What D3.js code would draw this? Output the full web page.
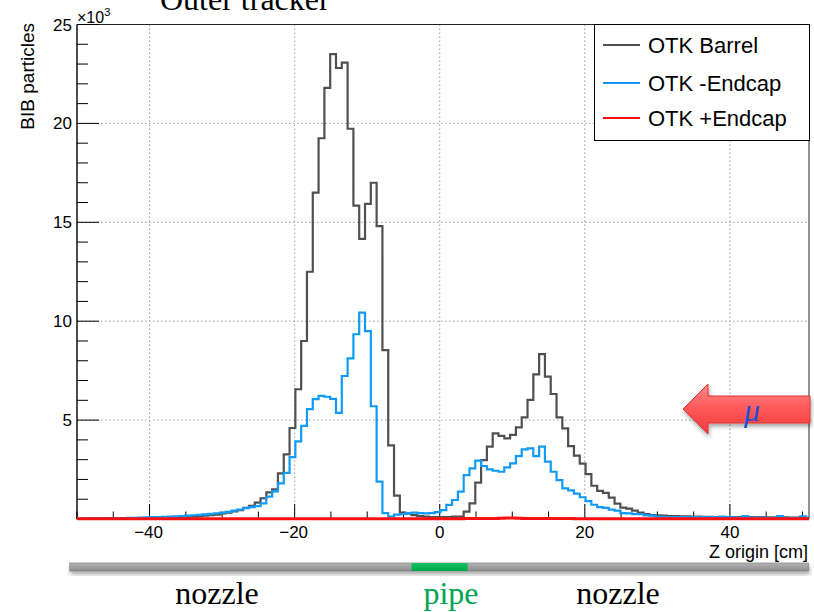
<!DOCTYPE html>
<html><head><meta charset="utf-8">
<script src="https://cdn.jsdelivr.net/npm/d3@7"></script>
<style>body{margin:0;background:#fff}svg{display:block}</style>
</head><body><svg id="c" width="814" height="612"></svg>
<script>
// ---- data (values in units of 10^3 BIB particles per bin) ----
const binLow = -50.3, binWidth = 0.8;          // Z origin [cm] binning
const barrel = [0.01,0.01,0.02,0.01,0.02,0.02,0.02,0.03,0.02,0.03,
0.03,0.04,0.04,0.05,0.05,0.06,0.07,0.08,0.09,0.10,
0.12,0.14,0.17,0.20,0.22,0.28,0.32,0.38,0.45,0.57,
0.67,0.83,1.05,1.35,1.50,2.31,3.27,4.60,6.56,9.00,
12.50,16.50,19.25,21.80,23.50,22.80,23.07,19.73,15.84,14.16,
15.93,17.00,14.81,8.54,3.72,1.18,0.32,0.27,0.20,0.15,
0.12,0.10,0.10,0.10,0.10,0.12,0.12,0.37,0.79,1.84,
2.98,3.66,4.33,4.20,4.08,4.25,4.63,5.14,6.02,7.31,
8.34,7.20,6.32,5.14,4.58,3.68,3.20,2.80,2.27,1.68,
1.42,1.32,1.08,0.78,0.58,0.52,0.42,0.32,0.25,0.20,
0.18,0.17,0.15,0.15,0.14,0.13,0.12,0.12,0.11,0.11,
0.10,0.10,0.10,0.10,0.09,0.10,0.09,0.08,0.09,0.08,
0.08,0.07,0.08,0.07,0.07,0.06,0.06];
const endcapMinus = [0.02,0.02,0.03,0.03,0.03,0.04,0.04,0.05,0.05,0.06,
0.06,0.07,0.08,0.09,0.10,0.11,0.12,0.13,0.15,0.17,
0.19,0.21,0.23,0.26,0.29,0.32,0.36,0.42,0.48,0.55,
0.60,0.65,0.79,1.13,1.40,1.80,2.33,3.13,3.92,4.71,
5.55,6.06,6.22,6.18,6.07,5.37,7.23,8.12,9.34,10.43,
9.50,5.70,1.89,0.30,0.12,0.22,0.25,0.30,0.32,0.30,
0.28,0.30,0.35,0.45,0.71,0.96,1.38,2.22,2.56,2.95,
2.68,2.51,2.44,2.39,2.61,2.81,3.18,3.52,3.57,3.18,
3.66,2.90,2.39,1.97,1.55,1.45,1.28,1.10,0.90,0.72,
0.60,0.56,0.47,0.42,0.30,0.28,0.25,0.24,0.18,0.17,
0.12,0.10,0.10,0.09,0.10,0.09,0.08,0.10,0.08,0.09,
0.08,0.12,0.08,0.08,0.07,0.15,0.07,0.06,0.07,0.06,
0.06,0.15,0.06,0.05,0.06,0.14,0.06];
const endcapPlus = [0.01,0.01,0.01,0.01,0.01,0.01,0.01,0.01,0.01,0.01,
0.01,0.01,0.01,0.01,0.01,0.01,0.01,0.01,0.01,0.01,
0.01,0.01,0.01,0.01,0.01,0.01,0.01,0.01,0.01,0.01,
0.01,0.01,0.01,0.01,0.01,0.01,0.01,0.01,0.01,0.01,
0.01,0.01,0.01,0.01,0.01,0.01,0.01,0.01,0.01,0.01,
0.01,0.01,0.01,0.01,0.01,0.01,0.01,0.01,0.01,0.01,
0.01,0.01,0.01,0.01,0.01,0.01,0.01,0.02,0.02,0.02,
0.03,0.03,0.03,0.04,0.05,0.05,0.04,0.03,0.03,0.03,
0.03,0.02,0.02,0.02,0.02,0.02,0.01,0.01,0.01,0.01,
0.01,0.01,0.01,0.01,0.01,0.01,0.01,0.01,0.01,0.01,
0.01,0.01,0.01,0.01,0.01,0.01,0.01,0.01,0.01,0.01,
0.01,0.01,0.01,0.01,0.01,0.01,0.01,0.01,0.01,0.01,
0.01,0.01,0.01,0.01,0.01,0.01,0.01];
const seriesNames = ["OTK Barrel", "OTK -Endcap", "OTK +Endcap"];
const seriesColors = ["#505050", "#0f9bf5", "#ff1010"];
const xTickLabels = [-40, -20, 0, 20, 40];
const yTickLabels = [5, 10, 15, 20, 25];
const regionNames = ["nozzle", "pipe", "nozzle"];
const regionEdges = [-51.0, -3.9, 3.85, 50.85];   // Z [cm]

// ---- layout ----
const svg = d3.select("#c");
const P = {l: 77, r: 809, t: 24.5, b: 519};
const x = d3.scaleLinear().domain([-50, 50.9]).range([P.l, P.r]);
const y = d3.scaleLinear().domain([0, 25]).range([P.b, P.t]);
const sans = "'Liberation Sans', Arial, Helvetica, sans-serif";
const serif = "'Liberation Serif', 'Times New Roman', serif";

svg.append("rect").attr("width", 814).attr("height", 612).attr("fill", "#fff");

const defs = svg.append("defs");
defs.append("clipPath").attr("id", "plotclip").append("rect")
  .attr("x", P.l).attr("y", P.t - 2).attr("width", P.r - P.l).attr("height", P.b - P.t + 6);
const sh = defs.append("filter").attr("id", "shadow").attr("x", "-20%").attr("y", "-40%").attr("width", "140%").attr("height", "200%");
sh.append("feDropShadow").attr("dx", 1).attr("dy", 3).attr("stdDeviation", 2.2).attr("flood-color", "#000").attr("flood-opacity", 0.35);
const ag = defs.append("linearGradient").attr("id", "arrowgrad").attr("x1", 0).attr("x2", 0).attr("y1", 0).attr("y2", 1);
ag.append("stop").attr("offset", "0%").attr("stop-color", "#ff8a8a");
ag.append("stop").attr("offset", "50%").attr("stop-color", "#ff5757");
ag.append("stop").attr("offset", "100%").attr("stop-color", "#f03c3c");
const bg = defs.append("linearGradient").attr("id", "bargrad").attr("x1", 0).attr("x2", 0).attr("y1", 0).attr("y2", 1);
bg.append("stop").attr("offset", "0%").attr("stop-color", "#b4b4b4");
bg.append("stop").attr("offset", "100%").attr("stop-color", "#8c8c8c");
const gg = defs.append("linearGradient").attr("id", "greengrad").attr("x1", 0).attr("x2", 0).attr("y1", 0).attr("y2", 1);
gg.append("stop").attr("offset", "0%").attr("stop-color", "#14c060");
gg.append("stop").attr("offset", "100%").attr("stop-color", "#00a84a");

// title (cropped at top, as in the original slide)
svg.append("text").attr("x", 160).attr("y", 10).attr("font-family", serif).attr("font-size", 32)
  .attr("fill", "#000").text("Outer tracker");

// grid
const grid = svg.append("g").attr("stroke", "#9a9a9a").attr("stroke-width", 1).attr("stroke-dasharray", "1.5,2.5");
xTickLabels.forEach(v => grid.append("line").attr("x1", x(v)).attr("x2", x(v)).attr("y1", P.t).attr("y2", P.b));
yTickLabels.filter(v => v < 25).forEach(v => grid.append("line").attr("x1", P.l).attr("x2", P.r).attr("y1", y(v)).attr("y2", y(v)));

// frame top/right
svg.append("path").attr("d", `M${P.l},${P.t}H${P.r}V${P.b}`).attr("fill", "none").attr("stroke", "#222").attr("stroke-width", 1);

// axes
const ax = svg.append("g").attr("stroke", "#000").attr("stroke-width", 1);
ax.append("line").attr("x1", P.l).attr("x2", P.l).attr("y1", P.t).attr("y2", P.b + 0.5).attr("stroke-width", 1.4);
d3.range(0, 26, 1).forEach(v => {
  const len = v % 5 === 0 ? 22 : 11;
  ax.append("line").attr("x1", P.l).attr("x2", P.l + len).attr("y1", y(v)).attr("y2", y(v));
});
d3.range(-50, 51, 5).forEach(v => {
  const len = v % 20 === 0 ? 15 : 7.5;
  ax.append("line").attr("x1", x(v)).attr("x2", x(v)).attr("y1", P.b).attr("y2", P.b - len);
});

// histograms
const series = [barrel, endcapMinus, endcapPlus];
const line = d3.line().x(d => x(d[0])).y(d => y(d[1])).curve(d3.curveStepAfter);
const hg = svg.append("g").attr("clip-path", "url(#plotclip)");
series.forEach((vals, si) => {
  const pts = vals.map((v, i) => [binLow + i * binWidth, v]);
  pts.push([binLow + vals.length * binWidth, vals[vals.length - 1]]);
  hg.append("path").attr("d", line(pts)).attr("fill", "none")
    .attr("stroke", seriesColors[si]).attr("stroke-width", si === 2 ? 3 : 2.2)
    .attr("stroke-linejoin", "miter");
});

const fmt = v => (v < 0 ? "\u2212" + Math.abs(v) : String(v));
svg.append("g").selectAll("text").data(xTickLabels).join("text")
  .attr("x", d => x(d) - (d < 0 ? 1 : 0)).attr("y", 538).attr("text-anchor", "middle")
  .attr("font-family", sans).attr("font-size", 17).text(fmt);
svg.append("g").selectAll("text").data(yTickLabels).join("text")
  .attr("x", 72).attr("y", d => y(d) + 6).attr("text-anchor", "end")
  .attr("font-family", sans).attr("font-size", 17).text(fmt);

// exponent
const ex = svg.append("text").attr("x", 77).attr("y", 23).attr("font-family", sans).attr("font-size", 16);
ex.append("tspan").text("\u00d710");
ex.append("tspan").attr("dy", -7).attr("font-size", 11).text("3");

// axis titles
svg.append("text").attr("transform", "translate(33.5,23) rotate(-90)").attr("text-anchor", "end")
  .attr("font-family", sans).attr("font-size", 19).text("BIB particles");
svg.append("text").attr("x", 808).attr("y", 558).attr("text-anchor", "end")
  .attr("font-family", sans).attr("font-size", 18).text("Z origin [cm]");

// legend
const lg = svg.append("g");
lg.append("rect").attr("x", 594.5).attr("y", 24.5).attr("width", 215).attr("height", 116)
  .attr("fill", "#fff").attr("stroke", "#000").attr("stroke-width", 1);
const rowsY = [45, 83, 118];
seriesNames.forEach((n, i) => {
  lg.append("line").attr("x1", 603).attr("x2", 640).attr("y1", rowsY[i]).attr("y2", rowsY[i])
    .attr("stroke", seriesColors[i]).attr("stroke-width", 2.2);
  lg.append("text").attr("x", 648).attr("y", rowsY[i] + 8).attr("font-family", sans).attr("font-size", 22).text(n);
});

// muon arrow
svg.append("path")
  .attr("d", "M683,409 L708,384 L708,396 L810,396 L810,423 L708,423 L708,434 Z")
  .attr("fill", "url(#arrowgrad)").attr("stroke", "#dc3030").attr("stroke-width", 1)
  .attr("filter", "url(#shadow)");
svg.append("text").attr("x", 744).attr("y", 421).attr("font-family", serif).attr("font-style", "italic")
  .attr("font-size", 32).attr("fill", "#1a50d8").text("\u03bc");

// beam-line bar
const bar = svg.append("g").attr("filter", "url(#shadow)");
bar.append("rect").attr("x", x(regionEdges[0])).attr("y", 563).attr("width", x(regionEdges[3]) - x(regionEdges[0]))
  .attr("height", 8).attr("fill", "url(#bargrad)").attr("stroke", "#7a7a7a").attr("stroke-width", 0.6);
bar.append("rect").attr("x", x(regionEdges[1])).attr("y", 563).attr("width", x(regionEdges[2]) - x(regionEdges[1]))
  .attr("height", 8).attr("fill", "url(#greengrad)");

const labelX = [217, 451, 618];
regionNames.forEach((n, i) => {
  svg.append("text").attr("x", labelX[i]).attr("y", 604).attr("text-anchor", "middle")
    .attr("font-family", serif).attr("font-size", 32).attr("fill", n === "pipe" ? "#00a550" : "#000").text(n);
});
</script></body></html>
